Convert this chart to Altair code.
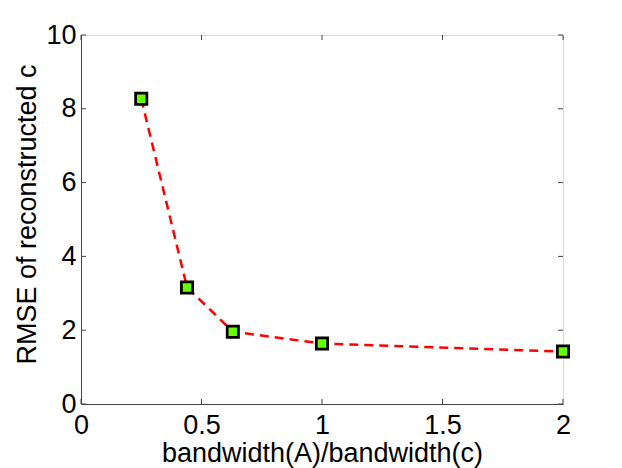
import altair as alt
import pandas as pd

ratio = [0.25, 0.44, 0.63, 1.0, 2.0]
rmse = [8.27, 3.16, 1.96, 1.64, 1.42]
x_ticks = [0, 0.5, 1, 1.5, 2]
y_ticks = [0, 2, 4, 6, 8, 10]

W, H = 482, 369
FONT = "Liberation Sans"
FS = 27

df = pd.DataFrame({"ratio": ratio, "rmse": rmse})
xt = pd.DataFrame({"t": x_ticks})
yt = pd.DataFrame({"t": y_ticks})

xscale = alt.Scale(domain=[0, 2], nice=False, zero=False)
yscale = alt.Scale(domain=[0, 10], nice=False, zero=False)

xaxis = alt.Axis(values=x_ticks, format="~g", title="bandwidth(A)/bandwidth(c)",
                 grid=False, tickSize=0, labelPadding=8, labelFontSize=FS,
                 labelFont=FONT, labelColor="black", titleFontSize=FS,
                 titleFont=FONT, titleFontWeight="normal", titleColor="black",
                 titleBaseline="alphabetic", titleY=57, domainColor="#444",
                 labelFlush=False, labelOverlap=False)
yaxis = alt.Axis(values=y_ticks, format="d", title="RMSE of reconstructed c",
                 grid=False, tickSize=0, labelPadding=5, labelFontSize=FS,
                 labelFont=FONT, labelColor="black", titleFontSize=FS,
                 titleFont=FONT, titleFontWeight="normal", titleColor="black",
                 titleBaseline="alphabetic", titleX=-46, titleY=179,
                 titleAngle=270, domainColor="#444",
                 labelFlush=False, labelOverlap=False)

line = alt.Chart(df).mark_line(color="#FF0000", strokeWidth=2.5,
                               strokeDash=[9, 6]).encode(
    x=alt.X("ratio:Q", scale=xscale, axis=xaxis),
    y=alt.Y("rmse:Q", scale=yscale, axis=yaxis),
)

pts = alt.Chart(df).mark_point(shape="square", size=127, filled=True,
                               fill="#66FF00", stroke="black", strokeWidth=2.75,
                               opacity=1).encode(
    x=alt.X("ratio:Q", scale=xscale),
    y=alt.Y("rmse:Q", scale=yscale),
)

tick_color = "#444"
xb = alt.Chart(xt).mark_rule(color=tick_color, strokeWidth=1).encode(
    x=alt.X("t:Q", scale=xscale), y=alt.value(H), y2=alt.value(H - 5))
xtp = alt.Chart(xt).mark_rule(color=tick_color, strokeWidth=1).encode(
    x=alt.X("t:Q", scale=xscale), y=alt.value(0), y2=alt.value(5))
yl = alt.Chart(yt).mark_rule(color=tick_color, strokeWidth=1).encode(
    y=alt.Y("t:Q", scale=yscale), x=alt.value(0), x2=alt.value(5))
yr = alt.Chart(yt).mark_rule(color=tick_color, strokeWidth=1).encode(
    y=alt.Y("t:Q", scale=yscale), x=alt.value(W), x2=alt.value(W - 5))

chart = alt.layer(xb, xtp, yl, yr, line, pts).properties(
    width=W, height=H,
    autosize=alt.AutoSizeParams(type="none"),
    padding={"left": 73, "top": 27, "right": 45, "bottom": 64},
).configure_view(stroke="#444", strokeWidth=1).configure(background="white")

chart.save("out.html", embed_options={"renderer": "svg", "actions": False})
